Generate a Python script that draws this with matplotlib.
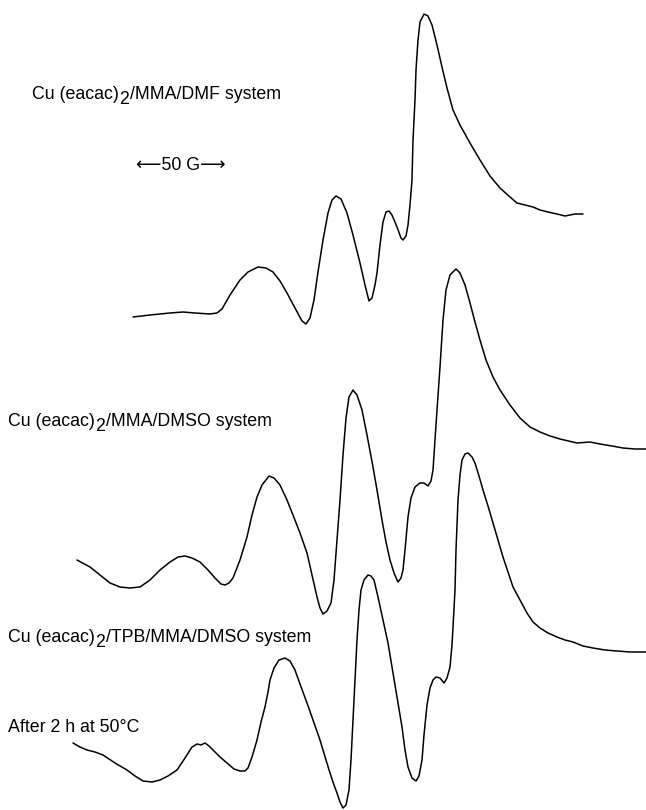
import matplotlib
matplotlib.use("Agg")
import matplotlib.pyplot as plt

plt.rcParams['font.family'] = ['Liberation Sans', 'DejaVu Sans']

# ---- Data: EPR traces (horizontal = field, vertical = signal, page units)
dmf_x = [133,150,170,183,195,210,217,222,230,240,248,258,266,273,280,287,295,302,306,310,314,318,
         323,328,332,336,341,347,353,360,365,369,372,375,377,380,383,386,389,392,397,401,403,406,
         408,410,412,413,415,416,418,420,424,428,432,437,442,447,453,460,470,480,490,500,510,517,
         525,533,540,548,557,565,575,583]
dmf_y = [317,315,313,312,313,314,313,309,295,280,272,267,268,272,281,293,308,321,324,318,300,272,
         240,213,200,196,199,213,235,263,285,301,298,285,273,245,222,212,211,215,227,238,240,236,
         225,205,180,140,100,70,40,22,14,16,25,45,67,88,110,125,143,160,176,188,197,203,
         205,207,210,212,214,216,214,214]

dmso_x = [77,90,100,110,120,130,140,150,160,170,178,185,192,200,208,215,221,225,229,233,240,247,
          252,257,262,269,274,280,287,293,300,307,312,317,320,323,327,331,334,337,340,343,346,349,
          353,357,362,367,373,377,382,386,390,394,398,401,403,405,408,411,415,420,424,428,431,433,
          435,437,440,443,446,450,456,460,465,470,475,480,486,493,500,510,520,530,540,550,560,577,
          590,600,612,623,635,646]
dmso_y = [560,567,575,583,587,588,587,580,570,562,557,556,558,562,570,578,584,585,583,578,560,537,
          515,497,485,476,478,485,500,515,533,553,575,597,608,614,611,603,580,540,500,455,418,397,
          390,395,410,435,467,490,520,542,560,573,582,578,570,550,517,498,487,483,483,486,481,470,
          440,410,367,320,290,275,269,273,285,303,322,340,360,377,390,405,418,427,432,436,439,443,
          442,444,446,448,449,449]

tpb_x = [73,80,87,95,103,115,127,135,143,152,160,168,177,185,192,197,201,205,209,213,220,227,234,
         240,245,248,252,257,261,265,268,270,274,279,285,290,295,300,307,313,320,326,330,334,337,
         340,343,346,349,351,353,355,357,359,361,364,368,371,374,378,383,388,392,397,402,405,408,
         412,416,419,422,424,427,430,433,436,440,444,447,450,452,453,455,456,458,460,462,465,468,
         472,475,479,483,488,493,498,503,508,513,520,527,533,540,548,557,565,573,583,593,605,617,
         630,646]
tpb_y = [743,747,750,752,755,763,770,776,781,782,780,776,770,758,747,744,745,743,746,750,757,763,769,
         771,771,768,757,740,722,707,692,680,668,660,658,661,670,684,703,720,740,760,773,785,793,
         802,808,805,790,760,720,680,640,610,590,580,575,576,580,597,620,643,667,697,727,750,767,
         778,781,776,760,735,705,688,680,677,678,683,678,667,645,627,590,550,500,475,460,454,453,
         457,463,476,490,506,523,540,557,572,587,600,613,622,628,633,637,640,642,646,648,650,651,
         652,652]

# label pieces: (main text before subscript, subscript, text after subscript)
label_parts = [("Cu (eacac)", "2", "/MMA/DMF system"),
               ("Cu (eacac)", "2", "/MMA/DMSO system"),
               ("Cu (eacac)", "2", "/TPB/MMA/DMSO system"),
               ("After 2 h at 50°C", "", "")]
label_x = [32, 8, 8, 8]
label_y = [99, 426, 642, 732]
scale_label = "⟵50 G⟶"

FS = 12.8

fig = plt.figure(figsize=(6.46, 8.10), dpi=100)
ax = fig.add_axes([0, 0, 1, 1])
ax.set_xlim(0, 646)
ax.set_ylim(810, 0)
ax.axis('off')

for xs, ys in [(dmf_x, dmf_y), (dmso_x, dmso_y), (tpb_x, tpb_y)]:
    ax.plot(xs, ys, color='black', lw=1.1, solid_joinstyle='round', solid_capstyle='round')

for (a, sub, b), x, y in zip(label_parts, label_x, label_y):
    t1 = ax.text(x, y, a, fontsize=FS, ha='left', va='baseline', color='black')
    if sub:
        t2 = ax.annotate(sub, xy=(1, 0), xycoords=t1, xytext=(0.3, -3.5),
                         textcoords='offset points', fontsize=FS, ha='left',
                         va='bottom', color='black')
        ax.annotate(b, xy=(1, 0), xycoords=(t2, t1), xytext=(0.3, 0),
                    textcoords='offset points', fontsize=FS, ha='left',
                    va='bottom', color='black')

ax.text(136, 165, scale_label, fontsize=FS, ha='left', va='center', color='black')

fig.savefig("out.png", dpi=100)
